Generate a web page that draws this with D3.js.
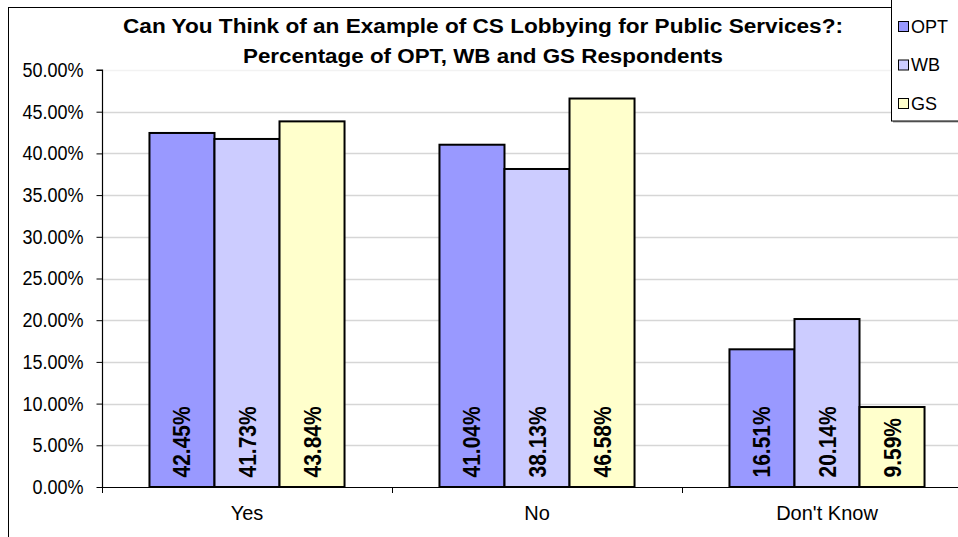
<!DOCTYPE html>
<html>
<head>
<meta charset="utf-8">
<script src="https://cdn.jsdelivr.net/npm/d3@7"></script>
<style>
  html, body { margin: 0; padding: 0; background: #fff; }
  svg { display: block; font-family: Arial, "Liberation Sans", sans-serif; }
</style>
</head>
<body>
<svg id="chart" width="958" height="537"></svg>
<script>
// Survey answers and respondent groups
const categories = ["Yes", "No", "Don't Know"];
const seriesNames = ["OPT", "WB", "GS"];
const optValues = [42.45, 41.04, 16.51];
const wbValues = [41.73, 38.13, 20.14];
const gsValues = [43.84, 46.58, 9.59];
const yTicks = [0, 5, 10, 15, 20, 25, 30, 35, 40, 45, 50];
const seriesColors = ["#9999ff", "#ccccff", "#ffffcc"];
const titleLines = [
  "Can You Think of an Example of CS Lobbying for Public Services?:",
  "Percentage of OPT, WB and GS Respondents"
];

const seriesValues = [optValues, wbValues, gsValues];
const rows = categories.map((c, i) => ({
  category: c,
  values: seriesNames.map((s, j) => ({ series: s, value: seriesValues[j][i], color: seriesColors[j] }))
}));

const FONT = "Arial, 'Liberation Sans', sans-serif";
const svg = d3.select("#chart");
const plot = { left: 102, top: 70, right: 972, bottom: 487 };

// Narrow a text run horizontally by a factor
function squeeze(sel, factor) {
  sel.each(function () {
    const w = this.getComputedTextLength();
    d3.select(this).attr("textLength", w * factor).attr("lengthAdjust", "spacingAndGlyphs");
  });
}

// Outer chart frame
svg.append("rect")
  .attr("x", 8.5).attr("y", 7.5)
  .attr("width", 1000).attr("height", 600)
  .attr("fill", "#fff").attr("stroke", "#000").attr("stroke-width", 1);

const x0 = d3.scaleBand().domain(categories).range([plot.left, plot.right]);
const x1 = d3.scaleBand().domain(seriesNames)
  .range([0, x0.bandwidth()]).paddingOuter(0.73).paddingInner(0);
const y = d3.scaleLinear().domain([0, 50]).range([plot.bottom, plot.top]);

// Horizontal gridlines
svg.append("g").selectAll("line").data(yTicks.filter(t => t > 0)).join("line")
  .attr("x1", plot.left).attr("x2", 958)
  .attr("y1", d => Math.round(y(d)) + 0.5).attr("y2", d => Math.round(y(d)) + 0.5)
  .attr("stroke", d => d === 50 ? "#f2f2f2" : "#d6d6d6").attr("stroke-width", 1.5);

// Bars
const groups = svg.append("g").selectAll("g").data(rows).join("g")
  .attr("transform", d => `translate(${x0(d.category)},0)`);

groups.selectAll("rect").data(d => d.values).join("rect")
  .attr("x", d => x1(d.series))
  .attr("y", d => y(d.value))
  .attr("width", x1.bandwidth())
  .attr("height", d => y(0) - y(d.value))
  .attr("fill", d => d.color)
  .attr("stroke", "#000").attr("stroke-width", 2);

// Value labels inside bars, rotated
groups.selectAll("text").data(d => d.values).join("text")
  .attr("transform", d => `translate(${x1(d.series) + x1.bandwidth() / 2 + 8.5},${y(0) - 9.5}) rotate(-90) scale(1,1.12)`)
  .attr("text-anchor", "start")
  .attr("font-size", 21).attr("font-weight", "bold").attr("fill", "#000")
  .text(d => d.value.toFixed(2) + "%");

// Y axis
const yAxis = d3.axisLeft(y).tickValues(yTicks).tickSize(6).tickPadding(13)
  .tickFormat(d => d.toFixed(2) + "%");
const gy = svg.append("g").attr("transform", `translate(${plot.left + 0.5},0)`).call(yAxis);
gy.select(".domain").attr("stroke", "#000").attr("stroke-width", 1.2).attr("d", `M-6,${plot.top}H0V${plot.bottom}`);
gy.selectAll(".tick line").attr("stroke", "#000");
gy.selectAll(".tick text").attr("font-size", 20).attr("fill", "#000").attr("font-family", FONT)
  .call(squeeze, 0.9);

// X axis
const xAxis = d3.axisBottom(x0).tickSize(0).tickPadding(18);
const gx = svg.append("g").attr("transform", `translate(0,${plot.bottom + 0.5})`).call(xAxis);
gx.select(".domain").attr("stroke", "#000").attr("stroke-width", 1.2).attr("d", `M${plot.left},0H958`);
gx.selectAll(".tick text").attr("font-size", 20).attr("fill", "#000").attr("font-family", FONT);
// Category separators
svg.append("g").selectAll("line").data(categories).join("line")
  .attr("x1", d => x0(d) + 0.5).attr("x2", d => x0(d) + 0.5)
  .attr("y1", plot.bottom).attr("y2", plot.bottom + 6)
  .attr("stroke", "#000");

// Title
const titleWidths = [720, 480];
svg.append("g").selectAll("text").data(titleLines).join("text")
  .attr("x", 483).attr("y", (d, i) => 33 + i * 29.5)
  .attr("text-anchor", "middle")
  .attr("font-size", 20).attr("font-weight", "bold").attr("fill", "#000")
  .attr("textLength", (d, i) => titleWidths[i]).attr("lengthAdjust", "spacingAndGlyphs")
  .text(d => d);

// Legend
const legend = svg.append("g").attr("transform", "translate(891,0)");
legend.append("rect").attr("x", 2).attr("y", -5).attr("width", 80).attr("height", 127.5)
  .attr("fill", "#9a9a9a");
legend.append("rect").attr("x", 0.5).attr("y", -5).attr("width", 80).attr("height", 126)
  .attr("fill", "#fff").attr("stroke", "#000");
const items = legend.selectAll("g.item").data(seriesNames).join("g").attr("class", "item")
  .attr("transform", (d, i) => `translate(0,${26 + i * 38.5})`);
items.append("rect").attr("x", 7.5).attr("y", -4.5).attr("width", 10).attr("height", 10)
  .attr("fill", (d, i) => seriesColors[i]).attr("stroke", "#000");
items.append("text").attr("x", 20).attr("y", 6.5).attr("font-size", 18).attr("fill", "#000").text(d => d);
</script>
</body>
</html>
